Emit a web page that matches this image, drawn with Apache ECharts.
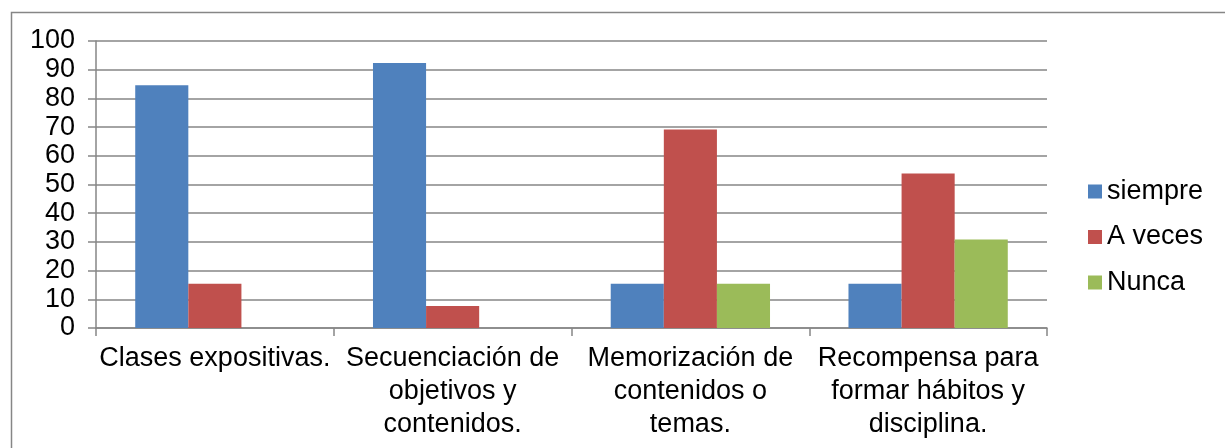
<!DOCTYPE html>
<html>
<head>
<meta charset="utf-8">
<script src="https://cdn.jsdelivr.net/npm/echarts@6/dist/echarts.min.js"></script>
<style>
  html, body { margin: 0; padding: 0; background: #fff; }
  #chart { width: 1225px; height: 448px; }
</style>
</head>
<body>
<div id="chart"></div>
<script>
// datos
const categories = [
  'Clases expositivas.',
  'Secuenciación de\nobjetivos y\ncontenidos.',
  'Memorización de\ncontenidos o\ntemas.',
  'Recompensa para\nformar hábitos y\ndisciplina.'
]
const siempre = [84.6, 92.3, 15.4, 15.4]
const aVeces = [15.4, 7.7, 69.2, 53.8]
const nunca = [0, 0, 15.4, 30.8]
const yTicks = { min: 0, max: 100, interval: 10 }

const gray = '#868686'
const font = 'Liberation Sans, Arial, sans-serif'

const chart = echarts.init(document.getElementById('chart'))

const option = {
  animation: false,
  textStyle: { fontFamily: font },
  graphic: [{
    type: 'rect',
    shape: { x: 11.5, y: 12.5, width: 1250, height: 500 },
    style: { fill: 'none', stroke: gray, lineWidth: 1.5 },
    silent: true
  }],
  grid: { left: 96, right: 178, top: 41, bottom: 120 },
  legend: {
    orient: 'vertical',
    left: 1083,
    top: 173,
    itemWidth: 14,
    itemHeight: 14,
    itemGap: 18.5,
    icon: 'rect',
    textStyle: { fontSize: 27, color: '#000', fontFamily: font, lineHeight: 27 },
    data: ['siempre', 'A veces', 'Nunca']
  },
  xAxis: {
    type: 'category',
    data: categories,
    axisLine: { lineStyle: { color: gray, width: 1.5 } },
    axisTick: { show: true, length: 8, lineStyle: { color: gray, width: 1.5 } },
    axisLabel: {
      interval: 0,
      margin: 14.5,
      fontSize: 27,
      lineHeight: 33,
      color: '#000',
      fontFamily: font
    }
  },
  yAxis: {
    type: 'value',
    min: yTicks.min,
    max: yTicks.max,
    interval: yTicks.interval,
    axisLine: { show: true, lineStyle: { color: gray, width: 1.5 } },
    axisTick: { show: true, length: 8, lineStyle: { color: gray, width: 1.5 } },
    splitLine: { lineStyle: { color: gray, width: 1.5 } },
    axisLabel: { margin: 21, fontSize: 27, color: '#000', fontFamily: font }
  },
  series: [
    { name: 'siempre', type: 'bar', data: siempre, barGap: '0%', barCategoryGap: '33%', itemStyle: { color: '#4F81BD' } },
    { name: 'A veces', type: 'bar', data: aVeces, itemStyle: { color: '#C0504D' } },
    { name: 'Nunca', type: 'bar', data: nunca, itemStyle: { color: '#9BBB59' } }
  ]
}

chart.setOption(option)
</script>
</body>
</html>
